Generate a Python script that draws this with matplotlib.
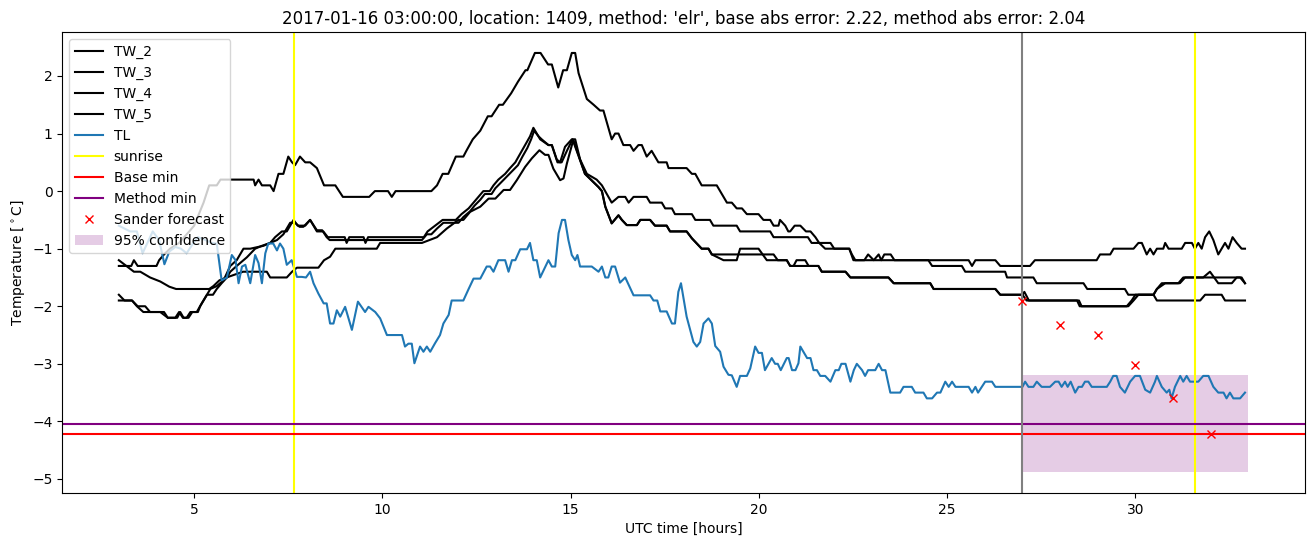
import matplotlib
matplotlib.use("Agg")
import matplotlib.pyplot as plt

# ---------------- data ----------------
tw2_t = [3.0, 3.33, 3.4, 3.5, 4.0, 4.07, 4.2, 4.36, 4.6, 4.87, 5.0, 5.25, 5.4, 5.6, 5.7,
         6.58, 6.62, 6.71, 6.8, 7.02, 7.11, 7.24, 7.37, 7.5, 7.6, 7.68, 7.81, 7.95, 8.08,
         8.26, 8.45, 8.75, 8.95, 9.65, 9.8, 10.15, 10.25, 10.35, 11.3, 11.45, 11.6, 11.75,
         11.95, 12.15, 12.23, 12.4, 12.6, 12.8, 12.9, 13.1, 13.2, 13.42, 13.6, 13.8, 13.85,
         14.05, 14.2, 14.4, 14.5, 14.67, 14.8, 14.9, 15.03, 15.12, 15.21, 15.43, 15.61,
         15.78, 15.87, 16.09, 16.18, 16.27, 16.4, 16.58, 16.67, 16.8, 16.89, 17.02, 17.15,
         17.33, 17.55, 17.6, 18.08, 18.22, 18.31, 18.48, 18.88, 19.06, 19.15, 19.28, 19.41,
         19.55, 19.68, 19.99, 20.12, 20.3, 20.39, 20.52, 20.56, 20.7, 20.78, 20.83, 20.95,
         21.1, 21.25, 21.37, 21.5, 21.6, 21.76, 22.4, 22.51, 22.8, 22.9, 23.05, 23.18,
         23.25, 23.33, 23.5, 23.6, 25.57, 25.66, 25.75, 26.28, 26.41, 27.2, 27.33, 28.97,
         29.06, 29.33, 29.42, 29.95, 30.08, 30.17, 30.3, 30.39, 30.48, 30.57, 30.74, 30.79,
         30.88, 31.23, 31.32, 31.5, 31.58, 31.67, 31.76, 31.85, 31.96, 32.07, 32.2, 32.29,
         32.38, 32.47, 32.58, 32.69, 32.82, 32.91]
tw2_v = [-1.3, -1.3, -1.2, -1.3, -1.3, -1.2, -1.1, -1.0, -0.9, -0.7, -0.6, -0.2, 0.1, 0.1, 0.2,
         0.2, 0.1, 0.2, 0.1, 0.1, 0.0, 0.3, 0.3, 0.6, 0.5, 0.45, 0.6, 0.5, 0.5,
         0.4, 0.1, 0.1, -0.1, -0.1, 0.0, 0.0, -0.1, 0.0, 0.0, 0.1, 0.3, 0.3,
         0.6, 0.6, 0.7, 0.9, 1.05, 1.3, 1.3, 1.5, 1.5, 1.7, 1.9, 2.1, 2.1,
         2.4, 2.4, 2.2, 2.2, 1.8, 2.1, 2.1, 2.4, 2.4, 2.05, 1.6, 1.5,
         1.4, 1.4, 0.9, 1.0, 1.0, 0.8, 0.8, 0.7, 0.8, 0.8, 0.6, 0.7,
         0.5, 0.5, 0.4, 0.4, 0.3, 0.3, 0.1, 0.1, -0.1, -0.2, -0.2, -0.3,
         -0.3, -0.4, -0.4, -0.5, -0.5, -0.6, -0.6, -0.5, -0.6, -0.7, -0.7, -0.6,
         -0.6, -0.7, -0.7, -0.8, -0.9, -1.0, -1.0, -1.2, -1.2, -1.1, -1.2, -1.1,
         -1.2, -1.1, -1.1, -1.2, -1.2, -1.3, -1.2, -1.2, -1.3, -1.3, -1.2, -1.2,
         -1.1, -1.1, -1.0, -1.0, -0.9, -0.9, -1.1, -1.0, -1.1, -1.0, -1.0, -0.9,
         -1.0, -1.0, -0.9, -0.9, -1.0, -0.9, -1.0, -0.8, -0.7, -0.85, -1.1, -1.0,
         -0.9, -1.0, -0.8, -0.9, -1.0, -1.0]

tw3_t = [3.0, 3.15, 3.35, 3.48, 3.65, 4.2, 4.3, 4.5, 4.6, 4.7, 4.8, 4.9, 5.07, 5.2, 5.34,
         5.5, 5.6, 5.73, 5.87, 5.96, 6.13, 6.4, 6.62, 6.8, 7.02, 7.15, 7.33, 7.46, 7.64,
         7.75, 7.95, 8.08, 8.26, 8.43, 8.55, 9.0, 9.05, 9.12, 9.5, 9.55, 9.62, 11.1, 11.2,
         11.4, 11.6, 11.95, 12.1, 12.29, 12.42, 12.55, 12.68, 12.85, 12.95, 13.08, 13.26,
         13.39, 13.53, 13.66, 13.79, 13.92, 14.01, 14.1, 14.19, 14.41, 14.5, 14.63, 14.72,
         14.85, 15.03, 15.12, 15.25, 15.43, 15.69, 15.83, 16.09, 16.27, 16.45, 16.54, 16.67,
         17.02, 17.11, 17.42, 17.51, 17.69, 17.77, 18.22, 18.31, 18.7, 18.79, 19.41, 19.5,
         20.3, 20.39, 21.3, 21.4, 21.9, 22.0, 22.4, 22.47, 22.56, 24.5, 24.6, 25.39, 25.48,
         26.54, 26.59, 27.29, 27.38, 28.62, 28.72, 29.72, 29.81, 30.48, 30.57, 30.7, 31.18,
         31.32, 31.8, 31.98, 32.2, 32.56, 32.69, 32.82, 32.91]
tw3_v = [-1.8, -1.9, -1.9, -2.0, -2.1, -2.1, -2.2, -2.2, -2.1, -2.2, -2.2, -2.1, -2.1, -1.95, -1.8,
         -1.8, -1.7, -1.6, -1.5, -1.4, -1.3, -1.15, -1.0, -0.95, -0.9, -0.8, -0.7, -0.7, -0.5,
         -0.6, -0.6, -0.5, -0.7, -0.7, -0.8, -0.8, -0.9, -0.8, -0.8, -0.9, -0.8, -0.8, -0.7,
         -0.6, -0.5, -0.5, -0.4, -0.3, -0.2, -0.1, 0.0, 0.0, 0.1, 0.2, 0.3,
         0.4, 0.5, 0.65, 0.8, 0.95, 1.1, 1.0, 0.9, 0.8, 0.8, 0.55, 0.5,
         0.77, 0.9, 0.9, 0.55, 0.3, 0.2, 0.1, -0.2, -0.1, -0.1, -0.2, -0.1,
         -0.1, -0.2, -0.2, -0.3, -0.3, -0.4, -0.4, -0.5, -0.5, -0.6, -0.6, -0.7,
         -0.7, -0.8, -0.8, -0.9, -0.9, -1.0, -1.0, -1.1, -1.2, -1.2, -1.3, -1.3, -1.4,
         -1.4, -1.5, -1.5, -1.6, -1.6, -1.7, -1.7, -1.8, -1.8, -1.7, -1.6, -1.6,
         -1.5, -1.5, -1.4, -1.6, -1.6, -1.5, -1.5, -1.6]

tw4_t = [3.0, 3.35, 3.5, 3.7, 3.83, 4.1, 4.3, 4.55, 4.63, 4.72, 4.85, 4.95, 5.1, 5.16, 5.34,
         5.43, 5.6, 5.78, 5.96, 6.13, 6.31, 6.49, 6.84, 7.02, 7.2, 7.37, 7.55, 7.68, 7.8,
         7.9, 8.08, 8.26, 8.4, 8.52, 8.6, 11.05, 11.18, 11.3, 11.45, 11.62, 12.02, 12.15,
         12.33, 12.45, 12.6, 12.72, 12.9, 13.0, 13.15, 13.3, 13.45, 13.6, 13.72, 13.85,
         13.95, 14.03, 14.15, 14.23, 14.41, 14.5, 14.65, 14.76, 14.9, 15.05, 15.38, 15.74,
         15.83, 15.92, 16.09, 16.27, 16.36, 16.49, 16.76, 16.85, 17.11, 17.24, 17.55, 17.64,
         18.08, 18.22, 18.48, 18.66, 18.75, 19.06, 19.41, 19.5, 19.99, 20.21, 20.74, 20.83,
         20.92, 21.0, 21.23, 21.32, 21.58, 21.67, 22.3, 22.43, 23.44, 23.58, 24.55, 24.64,
         26.28, 26.41, 27.0, 27.11, 28.5, 28.57, 29.77, 29.9, 30.0, 30.48, 30.57, 30.79,
         31.14, 31.27, 32.78, 32.91]
tw4_v = [-1.9, -1.9, -2.0, -2.0, -2.1, -2.1, -2.2, -2.2, -2.1, -2.2, -2.2, -2.1, -2.1, -2.0, -1.8,
         -1.7, -1.65, -1.55, -1.3, -1.2, -1.0, -1.0, -0.95, -0.9, -0.85, -0.75, -0.55, -0.55, -0.62,
         -0.62, -0.5, -0.68, -0.68, -0.8, -0.85, -0.85, -0.75, -0.75, -0.65, -0.55, -0.55, -0.45,
         -0.35, -0.25, -0.15, -0.05, -0.05, 0.05, 0.15, 0.25, 0.35, 0.45, 0.6, 0.75,
         0.9, 1.05, 0.95, 0.9, 0.8, 0.8, 0.5, 0.5, 0.7, 0.9, 0.3, 0.07,
         0.0, -0.27, -0.56, -0.42, -0.5, -0.59, -0.59, -0.5, -0.5, -0.6, -0.6, -0.7,
         -0.7, -0.82, -1.0, -1.0, -1.1, -1.2, -1.2, -1.0, -1.0, -1.2, -1.2, -1.3,
         -1.3, -1.2, -1.2, -1.3, -1.3, -1.4, -1.4, -1.5, -1.5, -1.6, -1.6, -1.7,
         -1.7, -1.8, -1.8, -1.9, -1.9, -2.0, -2.0, -1.9, -1.8, -1.8, -1.7, -1.6,
         -1.6, -1.5, -1.5, -1.6]

tw5_t = [3.0, 3.4, 3.57, 3.83, 4.1, 4.34, 4.52, 5.4, 5.51, 5.67, 5.86, 6.3, 6.93, 7.02, 7.46,
         7.6, 7.73, 8.3, 8.45, 8.61, 8.75, 9.85, 9.94, 11.05, 11.45, 11.71, 12.02, 12.15,
         12.33, 12.6, 12.82, 13.0, 13.22, 13.39, 13.57, 13.79, 13.97, 14.17, 14.32, 14.41,
         14.54, 14.72, 14.81, 14.9, 15.07, 15.38, 15.74, 15.83, 15.92, 16.09, 16.27, 16.36,
         16.49, 16.76, 16.85, 17.11, 17.24, 17.55, 17.64, 18.08, 18.22, 18.48, 18.66, 18.75,
         20.39, 20.5, 20.74, 20.83, 21.58, 21.67, 22.3, 22.43, 23.44, 23.58, 24.55, 24.64,
         26.28, 26.41, 27.0, 27.05, 27.17, 28.45, 28.52, 29.81, 29.95, 30.08, 30.48, 30.57,
         31.72, 31.85, 32.29, 32.38, 32.91]
tw5_v = [-1.2, -1.4, -1.4, -1.5, -1.57, -1.66, -1.7, -1.7, -1.65, -1.55, -1.5, -1.4, -1.4, -1.5, -1.5,
         -1.4, -1.33, -1.33, -1.2, -1.14, -1.0, -1.0, -0.9, -0.9, -0.8, -0.65, -0.5, -0.5,
         -0.36, -0.27, -0.13, -0.13, 0.02, 0.02, 0.19, 0.42, 0.57, 0.71, 0.63, 0.63,
         0.39, 0.19, 0.22, 0.48, 0.89, 0.3, 0.07, 0.0, -0.27, -0.56, -0.42, -0.5,
         -0.59, -0.59, -0.5, -0.5, -0.6, -0.6, -0.7, -0.7, -0.82, -1.0, -1.0, -1.1,
         -1.1, -1.2, -1.2, -1.3, -1.3, -1.4, -1.4, -1.5, -1.5, -1.6, -1.6, -1.7,
         -1.7, -1.8, -1.8, -1.75, -1.9, -1.9, -2.0, -2.0, -1.9, -1.8, -1.8, -1.9,
         -1.9, -1.8, -1.8, -1.9, -1.9]

tl_t = [3.0, 3.3, 3.48, 3.63, 3.9, 4.07, 4.21, 4.34, 4.5, 4.65, 4.8, 4.98, 5.1, 5.3, 5.45,
        5.6, 5.73, 5.87, 6.0, 6.1, 6.18, 6.27, 6.36, 6.49, 6.62, 6.71, 6.8, 6.89, 6.97,
        7.1, 7.2, 7.28, 7.37, 7.46, 7.59, 7.73, 7.86, 7.97, 8.08, 8.17, 8.3, 8.44, 8.52,
        8.61, 8.7, 8.79, 8.88, 9.01, 9.19, 9.35, 9.54, 9.63, 9.81, 9.94, 10.12, 10.52,
        10.6, 10.69, 10.78, 10.85, 11.0, 11.09, 11.18, 11.27, 11.4, 11.53, 11.62, 11.76,
        11.84, 12.15, 12.29, 12.42, 12.6, 12.77, 12.86, 12.95, 13.08, 13.26, 13.35, 13.44,
        13.53, 13.66, 13.84, 13.92, 14.01, 14.1, 14.19, 14.41, 14.5, 14.59, 14.68, 14.77,
        14.85, 14.94, 15.03, 15.12, 15.18, 15.25, 15.56, 15.74, 15.83, 15.92, 16.0, 16.09,
        16.18, 16.31, 16.45, 16.67, 17.11, 17.2, 17.3, 17.38, 17.55, 17.69, 17.77, 17.86,
        17.93, 18.08, 18.26, 18.35, 18.44, 18.53, 18.66, 18.75, 18.84, 18.97, 19.06, 19.19,
        19.28, 19.41, 19.5, 19.68, 19.77, 19.9, 19.99, 20.08, 20.16, 20.34, 20.43, 20.5,
        20.58, 20.74, 20.79, 20.88, 20.97, 21.05, 21.1, 21.28, 21.37, 21.45, 21.54, 21.63,
        21.76, 21.9, 22.03, 22.12, 22.19, 22.3, 22.43, 22.52, 22.6, 22.74, 22.82, 22.9,
        23.09, 23.18, 23.27, 23.36, 23.49, 23.75, 23.84, 24.06, 24.15, 24.37, 24.46, 24.6,
        24.73, 24.82, 24.95, 25.04, 25.13, 25.22, 25.57, 25.66, 25.75, 25.82, 25.92, 26.01,
        26.19, 26.28, 27.0, 27.07, 27.16, 27.29, 27.38, 27.51, 27.73, 27.87, 27.96, 28.04,
        28.13, 28.2, 28.28, 28.4, 28.49, 28.58, 28.66, 28.75, 28.84, 29.24, 29.33, 29.41,
        29.5, 29.59, 29.72, 29.86, 29.99, 30.12, 30.26, 30.39, 30.52, 30.57, 30.7, 30.83,
        30.9, 30.96, 31.05, 31.19, 31.27, 31.36, 31.45, 31.67, 31.8, 31.94, 32.07, 32.2,
        32.34, 32.42, 32.51, 32.6, 32.78, 32.91]
tl_v = [-0.6, -0.7, -0.7, -1.08, -0.7, -0.85, -1.27, -1.05, -0.97, -1.0, -1.08, -0.9, -0.8, -0.85, -0.9,
        -0.91, -1.55, -1.5, -1.11, -1.2, -1.6, -1.31, -1.28, -1.6, -1.11, -1.25, -1.6, -1.08, -0.91,
        -0.91, -1.03, -0.91, -1.0, -1.28, -1.2, -1.49, -1.49, -1.5, -1.4, -1.6, -1.78, -1.95, -1.95,
        -2.3, -2.3, -2.07, -2.18, -2.01, -2.41, -1.92, -2.1, -2.01, -2.1, -2.21, -2.5, -2.5,
        -2.7, -2.65, -2.65, -2.99, -2.7, -2.79, -2.7, -2.79, -2.64, -2.5, -2.3, -2.15,
        -1.9, -1.9, -1.7, -1.52, -1.52, -1.31, -1.31, -1.4, -1.2, -1.2, -1.4, -1.2,
        -1.2, -1.01, -1.01, -0.9, -1.2, -1.2, -1.5, -1.2, -1.31, -1.31, -0.73, -0.5,
        -0.5, -0.85, -1.11, -1.2, -1.11, -1.31, -1.31, -1.4, -1.31, -1.5, -1.5, -1.31,
        -1.31, -1.59, -1.5, -1.81, -1.81, -1.9, -1.9, -2.09, -2.09, -2.3, -2.3, -1.75,
        -1.6, -2.18, -2.62, -2.7, -2.62, -2.3, -2.21, -2.3, -2.69, -2.79, -3.05, -3.19,
        -3.2, -3.4, -3.21, -3.21, -3.08, -2.7, -2.81, -2.81, -3.11, -2.9, -3.0, -3.0,
        -3.11, -2.9, -2.9, -3.11, -3.11, -2.99, -2.7, -2.9, -2.9, -3.11, -3.11, -3.21,
        -3.21, -3.31, -3.11, -3.11, -3.0, -3.0, -3.31, -3.11, -3.0, -3.11, -3.21, -3.11,
        -3.11, -3.0, -3.11, -3.11, -3.5, -3.5, -3.4, -3.4, -3.5, -3.5, -3.6, -3.6,
        -3.5, -3.5, -3.31, -3.4, -3.31, -3.4, -3.4, -3.5, -3.4, -3.5, -3.4, -3.31,
        -3.31, -3.4, -3.4, -3.31, -3.4, -3.4, -3.31, -3.4, -3.4, -3.31, -3.31, -3.4,
        -3.31, -3.4, -3.31, -3.5, -3.4, -3.4, -3.31, -3.31, -3.4, -3.4, -3.31, -3.21,
        -3.21, -3.4, -3.5, -3.31, -3.21, -3.21, -3.45, -3.5, -3.31, -3.21, -3.4, -3.5,
        -3.45, -3.6, -3.4, -3.21, -3.31, -3.21, -3.31, -3.31, -3.21, -3.21, -3.4, -3.5,
        -3.5, -3.6, -3.5, -3.6, -3.6, -3.5]

sunrise_times = [7.65, 31.59]
now_time = 27.0
base_min = -4.22
method_min = -4.04
sander_t = [27, 28, 29, 30, 31, 32]
sander_v = [-1.9, -2.33, -2.5, -3.02, -3.6, -4.22]
conf_t = [27, 33]
conf_low = -4.88
conf_high = -3.20

title = ("2017-01-16 03:00:00, location: 1409, method: 'elr', "
         "base abs error: 2.22, method abs error: 2.04")

# ---------------- plot ----------------
fig = plt.figure(figsize=(13.13, 5.47), dpi=100)
ax = fig.add_axes([0.0475, 0.0987, 0.9463, 0.8428])

ax.plot(tw2_t, tw2_v, color='black', label='TW_2')
ax.plot(tw3_t, tw3_v, color='black', label='TW_3')
ax.plot(tw4_t, tw4_v, color='black', label='TW_4')
ax.plot(tw5_t, tw5_v, color='black', label='TW_5')
ax.plot(tl_t, tl_v, color='C0', label='TL')
ax.axvline(sunrise_times[0], color='yellow', label='sunrise')
ax.axvline(sunrise_times[1], color='yellow')
ax.axhline(base_min, color='red', label='Base min')
ax.axhline(method_min, color='purple', label='Method min')
ax.axvline(now_time, color='gray')
ax.plot(sander_t, sander_v, 'x', color='red', label='Sander forecast')
ax.fill_between(conf_t, [conf_low, conf_low], [conf_high, conf_high],
                color='purple', alpha=0.2, linewidth=0, label='95% confidence')

ax.set_xlim(1.5, 34.5)
ax.set_ylim(-5.244, 2.764)
ax.set_title(title)
ax.set_xlabel('UTC time [hours]')
ax.set_ylabel('Temperature [$^\\circ$C]')
ax.legend(loc='upper left')

fig.savefig('out.png', dpi=100)
